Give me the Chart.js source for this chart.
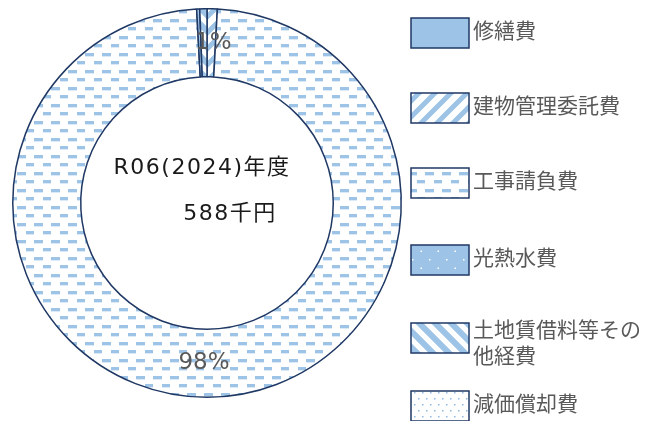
<!DOCTYPE html>
<html><head><meta charset="utf-8">
<script src="https://cdn.jsdelivr.net/npm/chart.js@4/dist/chart.umd.min.js"></script>
<style>html,body{margin:0;padding:0;background:#fff;} canvas{display:block}</style>
</head><body>
<canvas id="c" width="653" height="421"></canvas>
<script>
// ---- data (千円) ----
const categories = ['修繕費', '建物管理委託費', '工事請負費', '光熱水費', '土地賃借料等その他経費', '減価償却費'];
const values = [0, 5, 578, 1.5, 3.5, 0];
const showPercent = [false, true, true, false, false, false];
const centerLines = ['R06(2024)年度', '588千円'];

// ---- styles ----
const LB = '#9DC3E6';
const NAVY = '#1F3864';
function tile(w, h, draw) {
  const c = document.createElement('canvas'); c.width = w; c.height = h;
  const x = c.getContext('2d'); draw(x, w, h);
  return x.createPattern(c, 'repeat');
}
const fills = [
  LB,
  tile(16, 16, (x) => { x.fillStyle = '#fff'; x.fillRect(0,0,16,16); x.strokeStyle = LB; x.lineWidth = 5;
    x.beginPath(); x.moveTo(-4,20); x.lineTo(20,-4); x.moveTo(-4,4); x.lineTo(4,-4); x.moveTo(12,20); x.lineTo(20,12); x.stroke(); }),
  tile(17, 17, (x) => { x.fillStyle = '#fff'; x.fillRect(0,0,17,17);
    x.fillStyle = LB; x.fillRect(0,2,9,3); x.fillRect(9,10,8,3);
    x.fillStyle = '#DCE9F6'; x.fillRect(0,5,9,1); x.fillRect(9,13,8,1); }),
  tile(17, 17, (x) => { x.fillStyle = LB; x.fillRect(0,0,17,17); x.fillStyle = '#fff';
    x.fillRect(4,4,1.5,1.5); x.fillRect(12.5,12.5,1.5,1.5); }),
  tile(16, 16, (x) => { x.fillStyle = '#fff'; x.fillRect(0,0,16,16); x.strokeStyle = LB; x.lineWidth = 6;
    x.beginPath(); x.moveTo(-4,-4); x.lineTo(20,20); x.moveTo(-4,12); x.lineTo(4,20); x.moveTo(12,-4); x.lineTo(20,4); x.stroke(); }),
  tile(8, 12, (x) => { x.fillStyle = '#fff'; x.fillRect(0,0,8,12); x.fillStyle = '#8FB8E2';
    x.fillRect(2,2,1.5,1.5); x.fillRect(6,8,1.5,1.5); })
];

const total = values.reduce((a, b) => a + b, 0);
const FONT = '"DejaVu Sans", "Noto Sans CJK JP", sans-serif';

const pctLabels = {
  id: 'pctLabels',
  afterDatasetsDraw(chart) {
    const ctx = chart.ctx; const meta = chart.getDatasetMeta(0);
    ctx.save();
    ctx.font = '23px ' + FONT; ctx.fillStyle = '#595959';
    ctx.textAlign = 'center'; ctx.textBaseline = 'middle';
    meta.data.forEach((arc, i) => {
      if (!showPercent[i]) return;
      const p = arc.tooltipPosition();
      ctx.fillText(Math.round(values[i] / total * 100) + '%', p.x + (i === 1 ? 2 : -3), p.y);
    });
    ctx.restore();
  }
};

const centerText = {
  id: 'centerText',
  afterDraw(chart) {
    const ctx = chart.ctx; const a = chart.getDatasetMeta(0).data[0];
    const cx = a.x, cy = a.y;
    ctx.save();
    ctx.fillStyle = '#1a1a1a'; ctx.textAlign = 'center'; ctx.textBaseline = 'middle';
    ctx.font = '22px ' + FONT;
    ctx.letterSpacing = '1.5px';
    ctx.fillText(centerLines[0], cx - 5, cy - 35);
    ctx.fillText(centerLines[1], cx + 23, cy + 11);
    ctx.restore();
  }
};

const sideLegend = {
  id: 'sideLegend',
  afterDraw(chart) {
    const ctx = chart.ctx;
    const tops = [18, 93, 168, 245, 323, 391];
    const bx = 411, bw = 58, bh = 30, tx = 473, maxW = 178, lh = 26;
    ctx.save();
    ctx.font = '21px ' + FONT;
    chart.data.labels.forEach((lab, i) => {
      const y = tops[i];
      ctx.fillStyle = chart.data.datasets[0].backgroundColor[i];
      ctx.fillRect(bx, y, bw, bh);
      ctx.strokeStyle = NAVY; ctx.lineWidth = 1.5;
      ctx.strokeRect(bx, y, bw, bh);
      const lines = []; let cur = '';
      for (const ch of lab) {
        if (ctx.measureText(cur + ch).width > maxW) { lines.push(cur); cur = ch; } else cur += ch;
      }
      lines.push(cur);
      ctx.fillStyle = '#595959'; ctx.textAlign = 'left'; ctx.textBaseline = 'middle';
      const mid = y + bh / 2 + (lines.length > 1 ? 7 : 0);
      const start = mid - (lines.length - 1) * lh / 2;
      lines.forEach((l, k) => ctx.fillText(l, tx, start + k * lh));
    });
    ctx.restore();
  }
};

new Chart(document.getElementById('c'), {
  type: 'doughnut',
  data: {
    labels: categories,
    datasets: [{
      data: values,
      backgroundColor: fills,
      borderColor: NAVY,
      borderWidth: values.map(v => v > 0 ? 1.5 : 0),
      hoverOffset: 0
    }]
  },
  options: {
    responsive: false,
    animation: false,
    cutout: '65%',
    layout: { padding: { left: 12, top: 8, right: 251, bottom: 23 } },
    plugins: { legend: { display: false }, tooltip: { enabled: false } }
  },
  plugins: [pctLabels, centerText, sideLegend]
});
</script>
</body></html>
